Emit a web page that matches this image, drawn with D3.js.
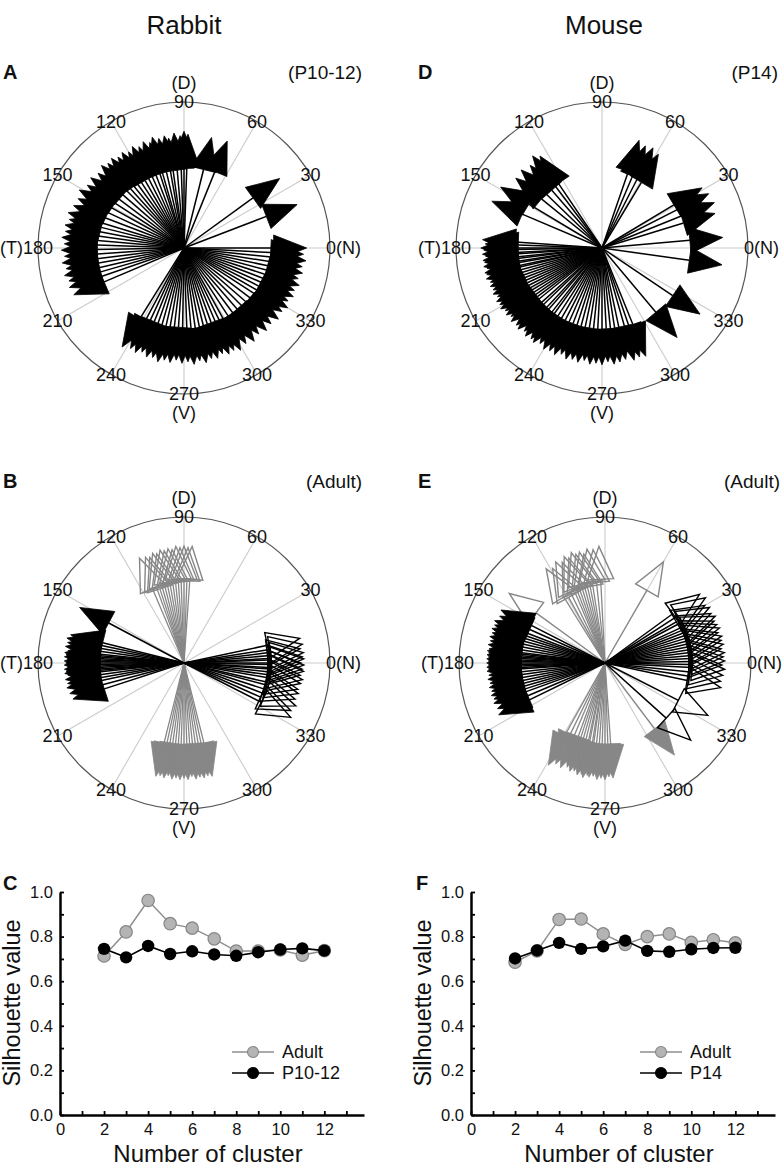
<!DOCTYPE html>
<html><head><meta charset="utf-8">
<script src="https://cdn.jsdelivr.net/npm/d3@7"></script>
<style>
body{margin:0;background:#fff}
svg{display:block}
text{font-family:"Liberation Sans", Arial, Helvetica, sans-serif;fill:#111}
</style>
</head><body>
<svg id="c" width="783" height="1167"></svg>
<script>
// ---------------- DATA ----------------
const angleTicks = [0,30,60,90,120,150,180,210,240,270,300,330];

// Panel A: rabbit P10-12, [angle in degrees, vector length (outer circle = 1)]
const rabbitP10Arrows = [
 [88,0.78],[90,0.80],[92,0.77],[95,0.79],[98,0.76],[100,0.78],[103,0.77],[106,0.79],[108,0.76],[111,0.78],
 [114,0.76],[117,0.78],[120,0.76],[123,0.78],[126,0.77],[129,0.79],[132,0.78],[135,0.80],[139,0.78],[143,0.80],
 [147,0.79],[151,0.82],[155,0.80],[159,0.81],[163,0.83],[166,0.81],[169,0.83],[172,0.82],[175,0.84],[178,0.82],
 [181,0.84],[184,0.82],[187,0.84],[190,0.82],[193,0.84],[196,0.82],[199,0.83],[203,0.82],
 [76,0.78],[68,0.79],[36,0.81],[21,0.83],
 [0,0.84],[357,0.82],[354,0.84],[351,0.82],[348,0.83],[345,0.81],[342,0.83],[339,0.81],[336,0.82],[333,0.80],
 [330,0.82],[327,0.80],[323,0.81],[319,0.79],[315,0.80],[311,0.78],[307,0.80],[303,0.78],[299,0.80],[296,0.78],
 [293,0.79],[290,0.77],[287,0.79],[284,0.78],[281,0.80],[278,0.78],[275,0.80],[272,0.78],[269,0.79],[266,0.77],
 [263,0.79],[260,0.78],[257,0.80],[254,0.78],[251,0.79],[248,0.77],[245,0.79],[242,0.78],[238,0.80]
];

// Panel D: mouse P14
const mouseP14Arrows = [
 [71,0.78],[67,0.76],[63,0.77],[59,0.75],
 [124,0.76],[127,0.79],[131,0.75],[136,0.77],[141,0.76],[149,0.81],[157,0.82],
 [31,0.80],[27,0.82],[22,0.83],[17,0.81],[5,0.83],[352,0.83],
 [326,0.81],[310,0.80],
 [176,0.82],[178,0.80],[180,0.83],[181,0.81],[183,0.82],[184,0.80],[186,0.82],[187,0.81],[189,0.82],[190,0.80],
 [192,0.82],[193,0.81],[195,0.82],[197,0.80],[199,0.81],[201,0.80],[203,0.81],[205,0.79],[207,0.81],[209,0.80],
 [211,0.81],[213,0.79],[215,0.80],[217,0.78],[219,0.80],[222,0.79],[224,0.80],[227,0.78],[229,0.80],[232,0.79],
 [234,0.80],[237,0.78],[240,0.80],[243,0.79],[246,0.80],[249,0.78],[252,0.80],[255,0.79],[258,0.80],[261,0.78],
 [264,0.80],[267,0.79],[270,0.80],[273,0.78],[276,0.80],[279,0.79],[282,0.78],[286,0.80],[289,0.79],[292,0.80]
];

// Panel B: rabbit adult (four clusters)
const rabbitAdultDorsal = [ // gray, open heads
 [86,0.80],[88,0.79],[90,0.80],[92,0.79],[94,0.80],[96,0.78],[98,0.79],[100,0.78],[102,0.79],[104,0.77],
 [106,0.78],[108,0.76],[110,0.77],[113,0.78]
];
const rabbitAdultVentral = [ // gray, filled heads
 [256,0.80],[258,0.79],[260,0.80],[262,0.78],[264,0.80],[266,0.79],[268,0.80],[270,0.79],[272,0.80],[274,0.78],
 [276,0.80],[278,0.79],[280,0.80],[282,0.79],[284,0.80]
];
const rabbitAdultTemporal = [ // black, filled heads
 [152,0.81],[166,0.80],[168,0.82],[170,0.81],[172,0.82],[174,0.80],[175,0.82],[176,0.81],[177,0.82],[178,0.80],
 [179,0.82],[180,0.81],[181,0.82],[182,0.80],[183,0.82],[184,0.81],[185,0.82],[186,0.80],[188,0.82],[190,0.81],
 [192,0.82],[195,0.81],[198,0.80]
];
const rabbitAdultNasal = [ // black, open heads
 [12,0.81],[9,0.82],[7,0.80],[5,0.82],[3,0.81],[2,0.82],[0,0.80],[359,0.82],[357,0.81],[356,0.82],
 [354,0.80],[352,0.82],[350,0.81],[347,0.80],[345,0.81],[342,0.80],[339,0.82],[336,0.80],[333,0.82]
];

// Panel E: mouse adult
const mouseAdultDorsal = [ // gray, open heads
 [93,0.80],[96,0.78],[99,0.79],[101,0.76],[103,0.78],[105,0.77],[107,0.79],[109,0.76],[111,0.78],[113,0.75],
 [116,0.77],[119,0.74],[122,0.76],[60,0.80],[144,0.81]
];
const mouseAdultVentral = [ // gray, filled heads
 [241,0.80],[244,0.77],[247,0.78],[250,0.76],[252,0.78],[254,0.77],[256,0.79],[258,0.78],[259,0.80],[261,0.78],
 [262,0.79],[264,0.78],[266,0.80],[268,0.79],[270,0.80],[272,0.78],[274,0.79],[307,0.79]
];
const mouseAdultTemporal = [ // black, filled heads
 [153,0.80],[156,0.79],[159,0.81],[161,0.80],[163,0.81],[165,0.80],[167,0.81],[169,0.80],[171,0.81],[173,0.80],
 [174,0.81],[175,0.80],[176,0.81],[177,0.80],[178,0.81],[179,0.80],[180,0.81],[181,0.80],[182,0.81],[183,0.80],
 [184,0.81],[186,0.80],[188,0.81],[190,0.80],[192,0.81],[194,0.80],[196,0.81],[198,0.80],[200,0.81],[203,0.80],[206,0.81]
];
const mouseAdultNasal = [ // black, open heads
 [36,0.80],[33,0.82],[30,0.79],[28,0.81],[25,0.80],[23,0.82],[21,0.80],[19,0.81],[17,0.82],[15,0.80],
 [13,0.82],[11,0.81],[9,0.82],[7,0.80],[5,0.82],[3,0.81],[1,0.82],[359,0.80],[357,0.82],[354,0.81],
 [351,0.80],[348,0.81],[333,0.79],[318,0.79]
];

// Panels C, F: silhouette values
const clusterNumbers = [2,3,4,5,6,7,8,9,10,11,12];
const rabbitAdultSil = [0.713,0.821,0.962,0.858,0.838,0.790,0.735,0.735,0.740,0.717,0.737];
const rabbitP10Sil   = [0.745,0.707,0.758,0.722,0.734,0.720,0.714,0.730,0.742,0.747,0.737];
const mouseAdultSil  = [0.685,0.736,0.877,0.879,0.812,0.765,0.800,0.812,0.774,0.786,0.772];
const mouseP14Sil    = [0.702,0.738,0.772,0.745,0.756,0.782,0.736,0.732,0.743,0.749,0.750];
const xTickLabels = [0,2,4,6,8,10,12];
const yTickLabels = [0,0.2,0.4,0.6,0.8,1.0];

// ---------------- DRAWING ----------------
const svg = d3.select("#c");
const R = 146;
const rScale = d3.scaleLinear().domain([0,1]).range([0,R]);
const aScale = d3.scaleLinear().domain([0,360]).range([0,2*Math.PI]);
const HEAD_LEN = 33, HEAD_HALF = 13;
const GRAY = "#878787";

// titles
svg.append("text").attr("x",184).attr("y",34).attr("text-anchor","middle").attr("font-size",26).text("Rabbit");
svg.append("text").attr("x",604).attr("y",34).attr("text-anchor","middle").attr("font-size",26).text("Mouse");

function panelLetter(x,y,t){
  svg.append("text").attr("x",x).attr("y",y).attr("font-size",20).attr("font-weight","bold").text(t);
}
function tag(x,y,t){
  svg.append("text").attr("x",x).attr("y",y).attr("text-anchor","end").attr("font-size",19).text(t);
}

function drawPolar(cx, cy, groups){
  const g = svg.append("g").attr("transform",`translate(${cx},${cy})`);
  // spokes
  g.selectAll("line.spoke").data(angleTicks).join("line").attr("class","spoke")
    .attr("x1",0).attr("y1",0)
    .attr("x2",d=>rScale(1)*Math.cos(aScale(d)))
    .attr("y2",d=>-rScale(1)*Math.sin(aScale(d)))
    .attr("stroke","#cbcbcb").attr("stroke-width",1.1);
  g.append("circle").attr("r",rScale(1)).attr("fill","none").attr("stroke","#555").attr("stroke-width",1.2);

  groups.forEach(grp=>{
    const geo = grp.data.map(([a,l])=>{
      const t = aScale(a), ux = Math.cos(t), uy = -Math.sin(t);
      const tip = rScale(l), base = tip - HEAD_LEN;
      const px = -uy, py = ux;
      return {
        bx: ux*base, by: uy*base,
        pts: [[ux*tip,uy*tip],[ux*base+px*HEAD_HALF,uy*base+py*HEAD_HALF],[ux*base-px*HEAD_HALF,uy*base-py*HEAD_HALF]]
      };
    });
    const gg = g.append("g");
    gg.selectAll("line").data(geo).join("line")
      .attr("x1",0).attr("y1",0).attr("x2",d=>d.bx).attr("y2",d=>d.by)
      .attr("stroke",grp.color).attr("stroke-width",grp.lw);
    gg.selectAll("path").data(geo).join("path")
      .attr("d",d=>"M"+d.pts.map(p=>p[0].toFixed(2)+","+p[1].toFixed(2)).join("L")+"Z")
      .attr("fill",grp.filled?grp.color:"none")
      .attr("stroke",grp.color).attr("stroke-width",grp.filled?0.8:1.4)
      .attr("stroke-linejoin","miter");
  });

  // angle labels
  const fs = 18;
  angleTicks.filter(a=>a!==0 && a!==180).forEach(a=>{
    g.append("text")
      .attr("x",rScale(1)*Math.cos(aScale(a)))
      .attr("y",-rScale(1)*Math.sin(aScale(a)))
      .attr("dy","0.36em").attr("text-anchor","middle").attr("font-size",fs).text(a);
  });
  g.append("text").attr("x",rScale(1)-4).attr("y",0).attr("dy","0.36em").attr("font-size",fs).text("0(N)");
  g.append("text").attr("x",-rScale(1)+15).attr("y",0).attr("dy","0.36em").attr("text-anchor","end").attr("font-size",fs).text("(T)180");
  g.append("text").attr("x",0).attr("y",-rScale(1)-19).attr("dy","0.36em").attr("text-anchor","middle").attr("font-size",fs).text("(D)");
  g.append("text").attr("x",0).attr("y",rScale(1)+19).attr("dy","0.36em").attr("text-anchor","middle").attr("font-size",fs).text("(V)");
}

// Panel A
panelLetter(3,79,"A"); tag(362,79,"(P10-12)");
drawPolar(184,248,[{data:rabbitP10Arrows,color:"#000",filled:true,lw:1.5}]);
// Panel D
panelLetter(418,79,"D"); tag(778,79,"(P14)");
drawPolar(602,248,[{data:mouseP14Arrows,color:"#000",filled:true,lw:1.5}]);
// Panel B
panelLetter(3,488,"B"); tag(362,488,"(Adult)");
drawPolar(184,663,[
  {data:rabbitAdultDorsal,color:GRAY,filled:false,lw:1.3},
  {data:rabbitAdultVentral,color:GRAY,filled:true,lw:1.3},
  {data:rabbitAdultTemporal,color:"#000",filled:true,lw:1.5},
  {data:rabbitAdultNasal,color:"#000",filled:false,lw:1.5}
]);
// Panel E
panelLetter(418,488,"E"); tag(780,488,"(Adult)");
drawPolar(605,663,[
  {data:mouseAdultDorsal,color:GRAY,filled:false,lw:1.3},
  {data:mouseAdultVentral,color:GRAY,filled:true,lw:1.3},
  {data:mouseAdultTemporal,color:"#000",filled:true,lw:1.5},
  {data:mouseAdultNasal,color:"#000",filled:false,lw:1.5}
]);

// ---------------- LINE CHARTS ----------------
function drawSil(x0, letterX, letter, adult, young, youngLabel, legX){
  const x = d3.scaleLinear().domain([0,13.8]).range([x0, x0+304]);
  const y = d3.scaleLinear().domain([0,1]).range([1115, 892]);
  panelLetter(letterX,890,letter);

  const yAx = svg.append("g").attr("transform",`translate(${x0},0)`)
    .call(d3.axisLeft(y).tickValues(yTickLabels).tickFormat(d3.format(".1f")).tickSizeInner(-4).tickSizeOuter(0).tickPadding(7));
  svg.append("g").attr("transform",`translate(${x0},0)`)
    .call(d3.axisLeft(y).tickValues([0.1,0.3,0.5,0.7,0.9]).tickFormat("").tickSizeInner(-4).tickSizeOuter(0))
    .select(".domain").remove();
  const xAx = svg.append("g").attr("transform",`translate(0,1115)`)
    .call(d3.axisBottom(x).tickValues(xTickLabels).tickSizeInner(-4).tickSizeOuter(0).tickPadding(8));
  svg.append("g").attr("transform",`translate(0,1115)`)
    .call(d3.axisBottom(x).tickValues([1,3,5,7,9,11,13]).tickFormat("").tickSizeInner(-4).tickSizeOuter(0))
    .select(".domain").remove();
  svg.selectAll(".domain").attr("stroke","#000").attr("stroke-width",2.5);
  svg.selectAll(".tick line").attr("stroke","#000").attr("stroke-width",1.8);
  [yAx,xAx].forEach(a=>a.selectAll("text").attr("font-size",16.5).attr("font-family","Liberation Sans, Arial, sans-serif").attr("fill","#111"));

  const line = d3.line().x((d,i)=>x(clusterNumbers[i])).y(d=>y(d));
  // adult (gray)
  svg.append("path").attr("d",line(adult)).attr("fill","none").attr("stroke","#8f8f8f").attr("stroke-width",1.5);
  svg.append("g").selectAll("circle").data(adult).join("circle")
    .attr("cx",(d,i)=>x(clusterNumbers[i])).attr("cy",d=>y(d)).attr("r",6.2)
    .attr("fill","#b4b4b4").attr("stroke","#858585").attr("stroke-width",1.2);
  // young (black)
  svg.append("path").attr("d",line(young)).attr("fill","none").attr("stroke","#000").attr("stroke-width",1.6);
  svg.append("g").selectAll("circle").data(young).join("circle")
    .attr("cx",(d,i)=>x(clusterNumbers[i])).attr("cy",d=>y(d)).attr("r",6.2)
    .attr("fill","#000");

  // legend
  const rows = [{lab:"Adult",line:"#8f8f8f",fill:"#b4b4b4",st:"#858585",yy:1052},{lab:youngLabel,line:"#000",fill:"#000",st:"#000",yy:1073}];
  rows.forEach(r=>{
    svg.append("line").attr("x1",legX).attr("x2",legX+42).attr("y1",r.yy).attr("y2",r.yy).attr("stroke",r.line).attr("stroke-width",1.6);
    svg.append("circle").attr("cx",legX+21).attr("cy",r.yy).attr("r",5.5).attr("fill",r.fill).attr("stroke",r.st).attr("stroke-width",1.1);
    svg.append("text").attr("x",legX+50).attr("y",r.yy).attr("dy","0.36em").attr("font-size",18).text(r.lab);
  });

  svg.append("text").attr("x",x0+148).attr("y",1162).attr("text-anchor","middle").attr("font-size",24).text("Number of cluster");
  svg.append("text").attr("transform",`translate(${x0-40},1003) rotate(-90)`).attr("text-anchor","middle").attr("font-size",23.5).text("Silhouette value");
}
drawSil(60, 3, "C", rabbitAdultSil, rabbitP10Sil, "P10-12", 232);
drawSil(471, 416, "F", mouseAdultSil, mouseP14Sil, "P14", 640);
</script>
</body></html>
